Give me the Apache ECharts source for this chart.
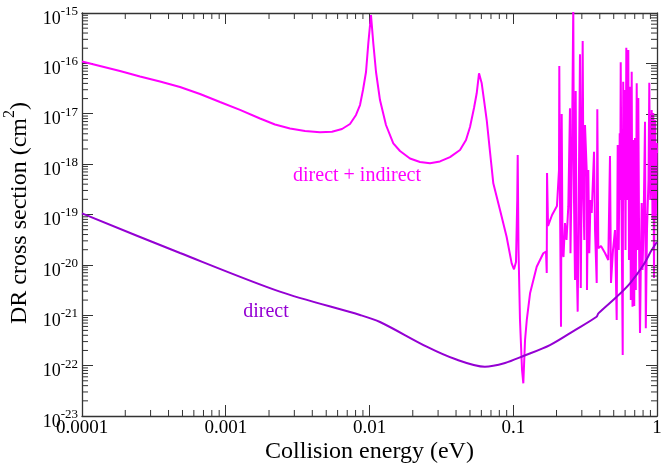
<!DOCTYPE html>
<html>
<head>
<meta charset="utf-8">
<title>DR cross section</title>
<script src="https://cdn.jsdelivr.net/npm/echarts@6/dist/echarts.min.js"></script>
<style>
html, body { margin: 0; padding: 0; background: #fff; }
#chart { width: 664px; height: 465px; }
</style>
</head>
<body>
<div id="chart"></div>
<script>
var font = "'Liberation Serif', 'Times New Roman', serif";
var pink = '#ff00ff';
var violet = '#9400d3';
var frame = '#333';

// axis range and tick labels
var xMin = 1e-4, xMax = 1;
var yMin = 1e-23, yMax = 1e-15;
var xTickLabels = ['0.0001', '0.001', '0.01', '0.1', '1'];
var yTickExponents = ['-23', '-22', '-21', '-20', '-19', '-18', '-17', '-16', '-15'];

// [collision energy (eV), cross section (cm^2)]
var directIndirect = [
    [1.0e-4, 1.09e-16], [1.334e-4, 8.87e-17], [1.838e-4, 7.06e-17], [2.532e-4, 5.49e-17],
    [3.488e-4, 4.37e-17], [4.805e-4, 3.40e-17], [6.622e-4, 2.47e-17], [9.12e-4, 1.71e-17],
    [1.2565e-3, 1.19e-17], [1.731e-3, 8.05e-18], [2.201e-3, 6.12e-18], [2.799e-3, 5.10e-18],
    [3.559e-3, 4.55e-18], [4.525e-3, 4.28e-18], [5.484e-3, 4.38e-18], [6.437e-3, 4.98e-18],
    [7.316e-3, 6.26e-18], [8.056e-3, 9.45e-18], [8.589e-3, 1.49e-17], [9.01e-3, 2.96e-17],
    [9.456e-3, 6.74e-17], [9.81e-3, 2.50e-16], [0.01024, 9.13e-16], [0.01063, 2.50e-16],
    [0.0111, 6.74e-17], [0.01183, 1.87e-17], [0.01302, 5.98e-18], [0.01464, 2.59e-18],
    [0.0163, 1.82e-18], [0.01913, 1.29e-18], [0.02245, 1.10e-18], [0.02636, 1.04e-18],
    [0.03093, 1.13e-18], [0.03631, 1.38e-18], [0.04262, 1.91e-18], [0.04692, 3.01e-18],
    [0.05003, 5.46e-18], [0.05333, 1.30e-17], [0.05569, 2.55e-17], [0.05779, 6.35e-17],
    [0.06034, 4.02e-17], [0.06261, 1.87e-17], [0.06537, 7.51e-18], [0.06893, 1.74e-18],
    [0.07265, 4.16e-19], [0.0809, 1.23e-19], [0.0899, 3.62e-20], [0.0975, 1.07e-20],
    [0.1012, 8.17e-21], [0.1045, 1.14e-20], [0.1066, 1.94e-19], [0.1074, 1.52e-18],
    [0.1088, 1.97e-20], [0.1114, 8.05e-22], [0.1151, 8.18e-23], [0.1175, 4.46e-23],
    [0.1208, 3.23e-22], [0.1242, 8.05e-22], [0.1309, 2.73e-21], [0.1456, 9.2e-21],
    [0.1618, 1.70e-20], [0.169, 1.83e-20], [0.171, 6.9e-21], [0.1718, 6.67e-19],
    [0.1746, 5.92e-20], [0.1862, 9.77e-20], [0.2014, 1.48e-19],
    [0.2081, 7.64e-19], [0.2091, 8.87e-17], [0.2115, 1.69e-19], [0.2149, 5.93e-22],
    [0.2173, 9.89e-18], [0.2201, 1.97e-20], [0.2237, 1.43e-20], [0.2291, 6.78e-20],
    [0.2347, 3.12e-20], [0.2415, 1.43e-19], [0.2481, 1.28e-17], [0.2501, 1.70e-20],
    [0.2562, 1.91e-18], [0.2616, 1.44e-15], [0.2646, 1.94e-19], [0.2689, 5.01e-21],
    [0.2719, 2.83e-17], [0.2754, 1.97e-20], [0.2807, 1.18e-21], [0.2844, 4.92e-20],
    [0.2912, 1.51e-16], [0.2950, 3.48e-21], [0.2993, 7.64e-19], [0.3041, 2.78e-16],
    [0.3081, 1.94e-19], [0.3121, 3.12e-20], [0.3156, 5.98e-18], [0.3243, 7.64e-19],
    [0.3258, 3.17e-21], [0.3327, 7.64e-19], [0.3381, 1.70e-20], [0.3447, 1.94e-19],
    [0.3514, 1.07e-19], [0.3588, 1.12e-19], [0.3646, 1.76e-18], [0.3705, 4.92e-20],
    [0.3807, 4.37e-21], [0.3844, 1.23e-17], [0.3906, 2.13e-20], [0.4077, 2.37e-20],
    [0.4347, 1.72e-20], [0.4583, 1.25e-20], [0.4710, 1.45e-18], [0.4786, 4.37e-21],
    [0.4942, 1.97e-20], [0.5103, 4.92e-20], [0.5244, 8.05e-22], [0.5329, 2.40e-18],
    [0.5416, 1.97e-20], [0.5503, 4.09e-18], [0.5548, 1.94e-19], [0.5592, 1.05e-16],
    [0.5682, 4.92e-20], [0.5774, 1.63e-22], [0.5821, 4.33e-17], [0.5895, 1.94e-19],
    [0.5962, 2.96e-17], [0.6039, 1.97e-20], [0.6116, 2.05e-16], [0.6215, 1.94e-19],
    [0.6315, 1.84e-16], [0.6386, 1.25e-20], [0.6489, 3.44e-17], [0.6573, 2.01e-21],
    [0.6668, 6.84e-17], [0.6755, 1.48e-21], [0.6842, 3.01e-18], [0.6942, 1.53e-21],
    [0.7031, 3.30e-18], [0.7121, 3.17e-21], [0.7225, 4.02e-17], [0.7317, 1.97e-20],
    [0.7412, 2.05e-17], [0.7521, 1.25e-20], [0.7617, 4.44e-22], [0.7740, 1.97e-20],
    [0.7825, 1.69e-19], [0.7926, 7.91e-21], [0.8054, 4.92e-20], [0.8252, 6.95e-18],
    [0.8358, 5.51e-22], [0.8519, 4.92e-20], [0.8727, 4.84e-19], [0.8839, 4.13e-17],
    [0.8970, 1.94e-19], [0.9187, 1.19e-17], [0.9305, 7.78e-20], [0.9425, 1.03e-17],
    [0.9530, 5.49e-21], [0.9685, 7.51e-18], [0.9810, 7.78e-20], [0.9952, 2.62e-18],
    [1.0, 1.66e-18]
];

var direct = [
    [1.0e-4, 1.05e-19], [4.81e-4, 1.72e-20], [2.38e-3, 2.94e-21], [8.59e-3, 1.01e-21],
    [0.01183, 7.35e-22], [0.0250, 2.38e-22], [0.0394, 1.35e-22], [0.0635, 9.5e-23],
    [0.0877, 1.13e-22], [0.1175, 1.55e-22], [0.180, 2.56e-22], [0.269, 5.09e-22],
    [0.380, 9.35e-22], [0.391, 1.09e-21], [0.525, 2.33e-21], [0.649, 4.31e-21],
    [0.804, 9.95e-21], [0.918, 1.97e-20], [1.0, 2.84e-20]
];

// minor ticks at 2..9 of every decade
var xMinor = [], yMinor = [];
for (var d = -4; d < 0; d++) {
    for (var m = 2; m <= 9; m++) xMinor.push([m * Math.pow(10, d), yMin]);
}
for (var e = -23; e < -15; e++) {
    for (var k = 2; k <= 9; k++) yMinor.push([xMin, k * Math.pow(10, e)]);
}

function decade(v) {
    return Math.round(Math.log(v) / Math.LN10);
}

function tickLine(x1, y1, x2, y2) {
    return {
        type: 'line',
        shape: { x1: x1, y1: y1, x2: x2, y2: y2 },
        style: { stroke: frame, lineWidth: 1 }
    };
}

var lineStyle = { color: frame, width: 1.3 };
var tick = { show: true, inside: true, length: 11, lineStyle: { color: frame, width: 1 } };

function xAxis(pos) {
    var ax = {
        type: 'log', logBase: 10, min: xMin, max: xMax, position: pos,
        axisLine: { show: true, onZero: false, lineStyle: lineStyle },
        axisTick: tick,
        splitLine: { show: false },
        axisLabel: { show: false }
    };
    if (pos === 'bottom') {
        ax.axisLabel = {
            show: true, margin: 3, color: '#000', fontFamily: font, fontSize: 19,
            showMinLabel: true, showMaxLabel: true,
            formatter: function (v) { return xTickLabels[decade(v) + 4]; }
        };
        ax.name = 'Collision energy (eV)';
        ax.nameLocation = 'middle';
        ax.nameGap = 24;
        ax.nameMoveOverlap = false;
        ax.nameTextStyle = { color: '#000', fontFamily: font, fontSize: 24 };
    }
    return ax;
}

function yAxis(pos) {
    // the left axis starts a hair below 1e-23 so that its lowest label is kept
    var ax = {
        type: 'log', logBase: 10, min: pos === 'left' ? yMin * 0.9999 : yMin, max: yMax, position: pos,
        axisLine: { show: true, onZero: false, lineStyle: lineStyle },
        axisTick: tick,
        splitLine: { show: false },
        axisLabel: { show: false }
    };
    if (pos === 'left') {
        ax.axisLabel = {
            show: true, margin: 4, color: '#000',
            showMinLabel: true, showMaxLabel: true, hideOverlap: false,
            padding: [7, 0, 0, 0],
            formatter: function (v) { return '{b|10}{s|' + yTickExponents[decade(v) + 23] + '}'; },
            rich: {
                b: { fontFamily: font, fontSize: 18, lineHeight: 23, verticalAlign: 'bottom', color: '#000' },
                s: { fontFamily: font, fontSize: 13, lineHeight: 13, verticalAlign: 'top', color: '#000' }
            }
        };
    }
    return ax;
}

var chart = echarts.init(document.getElementById('chart'), null, { renderer: 'canvas' });

chart.setOption({
    animation: false,
    backgroundColor: '#fff',
    grid: { left: 82, right: 7, top: 13, bottom: 49, outerBoundsMode: 'none' },
    xAxis: [xAxis('bottom'), xAxis('top')],
    yAxis: [yAxis('left'), yAxis('right')],
    graphic: [
        {
            type: 'text', x: 16.5, y: 213, rotation: Math.PI / 2,
            style: {
                text: '{b|DR cross section (cm}{s|2}{b|)}', align: 'center', verticalAlign: 'middle',
                rich: {
                    b: { fontFamily: font, fontSize: 24, lineHeight: 30, verticalAlign: 'bottom', fill: '#000' },
                    s: { fontFamily: font, fontSize: 16, lineHeight: 16, verticalAlign: 'top', fill: '#000' }
                }
            }
        },
        { type: 'text', x: 357, y: 176, style: { text: 'direct + indirect', fill: pink, font: '20px ' + font, align: 'center', verticalAlign: 'middle' } },
        { type: 'text', x: 266, y: 312, style: { text: 'direct', fill: violet, font: '20px ' + font, align: 'center', verticalAlign: 'middle' } }
    ],
    series: [
        {
            name: 'direct + indirect', type: 'line', data: directIndirect,
            showSymbol: false, clip: true, z: 2,
            lineStyle: { color: pink, width: 2 }
        },
        {
            name: 'direct', type: 'line', data: direct,
            showSymbol: false, smooth: 0.3, clip: true, z: 3,
            lineStyle: { color: violet, width: 2 }
        },
        {
            type: 'custom', silent: true, data: xMinor, z: 4,
            renderItem: function (params, api) {
                var b = api.coord([api.value(0), yMin]);
                var t = api.coord([api.value(0), yMax]);
                return { type: 'group', children: [
                    tickLine(b[0], b[1], b[0], b[1] - 6),
                    tickLine(t[0], t[1], t[0], t[1] + 6)
                ] };
            }
        },
        {
            type: 'custom', silent: true, data: yMinor, z: 4,
            renderItem: function (params, api) {
                var l = api.coord([xMin, api.value(1)]);
                var r = api.coord([xMax, api.value(1)]);
                return { type: 'group', children: [
                    tickLine(l[0], l[1], l[0] + 6, l[1]),
                    tickLine(r[0], r[1], r[0] - 6, r[1])
                ] };
            }
        }
    ]
});
</script>
</body>
</html>
